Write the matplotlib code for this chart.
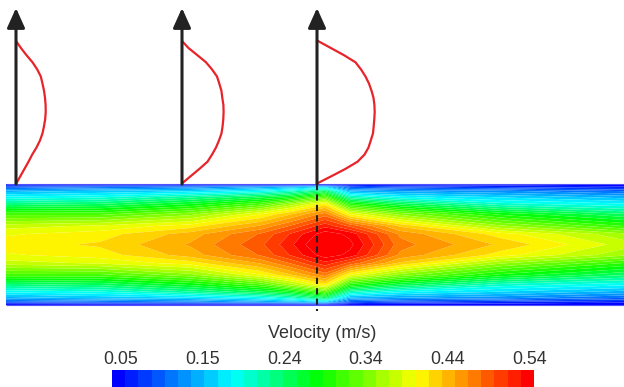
import numpy as np
import matplotlib
matplotlib.use("Agg")
import matplotlib.pyplot as plt
from matplotlib.colors import LinearSegmentedColormap, ListedColormap, BoundaryNorm
from matplotlib.cm import ScalarMappable

# Velocity field in the channel (m/s).
# Columns: stations along the channel (px), rows: distance from the wall (px),
# the lower half of the channel mirrors the upper half.
x_stations = [6, 100, 190, 260, 290, 325, 350, 400, 500, 624]
wall_dist = [0, 3, 7, 13, 20, 30, 42, 50, 60.5]
u_half = [
    [0.05, 0.05, 0.05, 0.05, 0.05, 0.05, 0.05, 0.05, 0.05, 0.05],
    [0.10, 0.11, 0.12, 0.14, 0.15, 0.17, 0.10, 0.09, 0.08, 0.07],
    [0.15, 0.16, 0.17, 0.19, 0.21, 0.25, 0.15, 0.14, 0.13, 0.11],
    [0.19, 0.20, 0.23, 0.26, 0.28, 0.33, 0.22, 0.19, 0.17, 0.15],
    [0.24, 0.25, 0.28, 0.32, 0.36, 0.41, 0.30, 0.26, 0.21, 0.19],
    [0.32, 0.32, 0.35, 0.40, 0.43, 0.47, 0.40, 0.35, 0.29, 0.25],
    [0.38, 0.39, 0.41, 0.45, 0.48, 0.52, 0.49, 0.43, 0.36, 0.31],
    [0.40, 0.41, 0.44, 0.48, 0.51, 0.55, 0.535, 0.46, 0.41, 0.36],
    [0.41, 0.42, 0.45, 0.49, 0.52, 0.565, 0.545, 0.47, 0.43, 0.38],
]

# Velocity profiles above the channel (m/s), from bottom to top
profile_x = [16, 182, 317]
profile_eta = np.linspace(0, 1, 21)
profile_u = [
    [0.005, 0.045, 0.085, 0.125, 0.162, 0.205, 0.24, 0.265, 0.28, 0.292, 0.297,
     0.296, 0.29, 0.28, 0.265, 0.248, 0.212, 0.165, 0.105, 0.05, 0.0],
    [0.005, 0.09, 0.175, 0.255, 0.30, 0.34, 0.37, 0.395, 0.406, 0.413, 0.416,
     0.414, 0.403, 0.394, 0.373, 0.35, 0.30, 0.24, 0.154, 0.066, 0.0],
    [0.01, 0.15, 0.286, 0.405, 0.475, 0.515, 0.538, 0.56, 0.567, 0.573, 0.577,
     0.574, 0.565, 0.545, 0.52, 0.485, 0.44, 0.385, 0.27, 0.14, 0.01],
]

tick_labels = ["0.05", "0.15", "0.24", "0.34", "0.44", "0.54"]
vmin, vmax, nlev = 0.05, 0.54, 32

# geometry (px)
top, bottom = 184, 305
prof_top, prof_bot = 41, 183
scale = 100  # px per m/s for the profiles

fig = plt.figure(figsize=(6.24, 3.87), dpi=100)
ax = fig.add_axes([0, 0, 1, 1])
ax.set_xlim(0, 624)
ax.set_ylim(387, 0)
ax.axis("off")

base = LinearSegmentedColormap.from_list(
    "fluent", [(0, "#0000ff"), (0.28, "#00ffff"), (0.49, "#00ff00"),
               (0.73, "#ffff00"), (1, "#ff0000")])
cmap = ListedColormap(base(np.linspace(0, 1, nlev))).with_extremes(over="#ff0000", under="#0000ff")
levels = np.linspace(vmin, vmax, nlev + 1)

d = np.array(wall_dist)
ys = np.concatenate([top + d, bottom - d[-2::-1]])
uh = np.array(u_half)
U = np.vstack([uh, uh[-2::-1]])
X, Y = np.meshgrid(x_stations, ys)
ax.contourf(X, Y, U, levels=levels, cmap=cmap, extend="both", antialiased=True)
ax.hlines([top, bottom], x_stations[0], x_stations[-1], color="#5050ff", lw=0.8)

# arrows and profiles
for xb, up in zip(profile_x, profile_u):
    ax.annotate("", xy=(xb, 8), xytext=(xb, top),
                arrowprops=dict(arrowstyle="-|>,head_length=0.6,head_width=0.27",
                                color="#222222", lw=2.2, shrinkA=0, shrinkB=0,
                                mutation_scale=20))
    yy = prof_bot - profile_eta * (prof_bot - prof_top)
    ax.plot(xb + np.array(up) * scale, yy, color="#e8232a", lw=1.6,
            solid_joinstyle="round", solid_capstyle="round")

ax.plot([profile_x[2], profile_x[2]], [top, 311], color="#222222", lw=1.5,
        dashes=(3, 2))

ax.text(322, 333, "Velocity (m/s)", ha="center", va="center", fontsize=13,
        family="Liberation Sans", color="#333333")

cx0, cw = 112, 422
cax = fig.add_axes([cx0 / 624, 0, cw / 624, 17 / 387])
cb = fig.colorbar(ScalarMappable(norm=BoundaryNorm(levels, nlev), cmap=cmap),
                  cax=cax, orientation="horizontal")
cb.outline.set_visible(False)
cb.set_ticks([])
for f, lab in zip(np.linspace(0.02, 0.99, len(tick_labels)), tick_labels):
    fig.text((cx0 + f * cw) / 624, 1 - 359 / 387, lab, ha="center", va="center",
             fontsize=12.8, family="Liberation Sans", color="#333333")

fig.savefig("out.png", dpi=100)
